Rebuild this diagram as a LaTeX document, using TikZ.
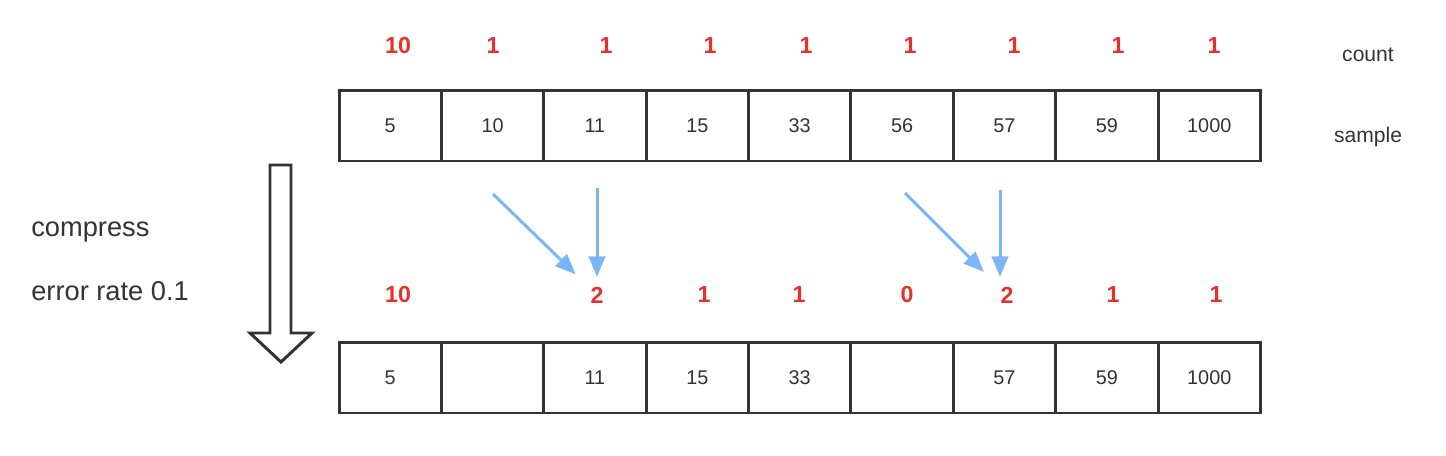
\documentclass[tikz,border=0pt]{standalone}
\usepackage{fontspec}
\setmainfont{Liberation Sans}
\usetikzlibrary{positioning}
\usetikzlibrary{arrows}
\definecolor{rojo}{HTML}{E8302A}
\definecolor{azul}{HTML}{7CB5F7}
\definecolor{gris}{HTML}{333333}

\begin{document}
\begin{tikzpicture}[x=0.02cm,y=-0.02cm]
\tikzstyle{nodo celda}=[draw=gris,line width=1.7pt,minimum width=2.048cm,minimum height=1.42cm,outer sep=0pt,inner sep=0pt,text=gris,font=\fontsize{11.3}{13}\selectfont]
\tikzstyle{nodo cuenta}=[text=rojo,font=\fontsize{13.2}{15}\selectfont\bfseries]
\tikzstyle{nodo etiqueta}=[text=gris,inner sep=0pt,font=\fontsize{12}{14}\selectfont]
\tikzstyle{flecha}=[-triangle 45,color=azul,line width=1.7pt]

\useasboundingbox (0,0) rectangle (1446,456);

% fila de arriba
\node[nodo celda] (s1) at (390.2,125.5) {5};
\node[nodo celda,right=0pt of s1] (s2) {10};
\node[nodo celda,right=0pt of s2] (s3) {11};
\node[nodo celda,right=0pt of s3] (s4) {15};
\node[nodo celda,right=0pt of s4] (s5) {33};
\node[nodo celda,right=0pt of s5] (s6) {56};
\node[nodo celda,right=0pt of s6] (s7) {57};
\node[nodo celda,right=0pt of s7] (s8) {59};
\node[nodo celda,right=0pt of s8] (s9) {1000};
\node[nodo cuenta] (c1) at (398,45.5) {10};
\node[nodo cuenta] (c2) at (493,45.5) {1};
\node[nodo cuenta] (c3) at (606,45.5) {1};
\node[nodo cuenta] (c4) at (710,45.5) {1};
\node[nodo cuenta] (c5) at (806,45.5) {1};
\node[nodo cuenta] (c6) at (910,45.5) {1};
\node[nodo cuenta] (c7) at (1014,45.5) {1};
\node[nodo cuenta] (c8) at (1118,45.5) {1};
\node[nodo cuenta] (c9) at (1214,45.5) {1};

% fila de abajo
\node[nodo celda] (r1) at (390.2,377.5) {5};
\node[nodo celda,right=0pt of r1] (r2) {};
\node[nodo celda,right=0pt of r2] (r3) {11};
\node[nodo celda,right=0pt of r3] (r4) {15};
\node[nodo celda,right=0pt of r4] (r5) {33};
\node[nodo celda,right=0pt of r5] (r6) {};
\node[nodo celda,right=0pt of r6] (r7) {57};
\node[nodo celda,right=0pt of r7] (r8) {59};
\node[nodo celda,right=0pt of r8] (r9) {1000};
\node[nodo cuenta] (k1) at (398,295) {10};
\node[nodo cuenta] (k3) at (597,295) {2};
\node[nodo cuenta] (k4) at (704,295) {1};
\node[nodo cuenta] (k5) at (799,295) {1};
\node[nodo cuenta] (k6) at (907,295) {0};
\node[nodo cuenta] (k7) at (1007,295) {2};
\node[nodo cuenta] (k8) at (1113,295) {1};
\node[nodo cuenta] (k9) at (1216,295) {1};

\node[nodo etiqueta,anchor=base] (l1) at (1368,62) {count};
\node[nodo etiqueta,anchor=base] (l2) at (1368,142) {sample};
\node[nodo etiqueta,anchor=base west,font=\fontsize{15.5}{18}\selectfont] (l3) at (31,236) {compress};
\node[nodo etiqueta,anchor=base west,font=\fontsize{15.5}{18}\selectfont] (l4) at (31,300) {error rate 0.1};

% flecha hueca
\draw[gris,line width=1.7pt] (270,165) -- (291,165) -- (291,333) -- (312,333) -- (281,362) -- (250,333) -- (270,333) -- cycle;

\coordinate (a1) at (493,194);
\coordinate (a2) at (597,188);
\coordinate (a3) at (905,193);
\coordinate (a4) at (1000,190);
\draw[flecha,shorten >=7pt] (a1) -- (k3);
\draw[flecha,shorten >=2.3pt] (a2) -- (k3);
\draw[flecha,shorten >=8.5pt] (a3) -- (k7);
\draw[flecha,shorten >=2.3pt] (a4) -- (a4 |- k7.north);
\end{tikzpicture}
\end{document}
